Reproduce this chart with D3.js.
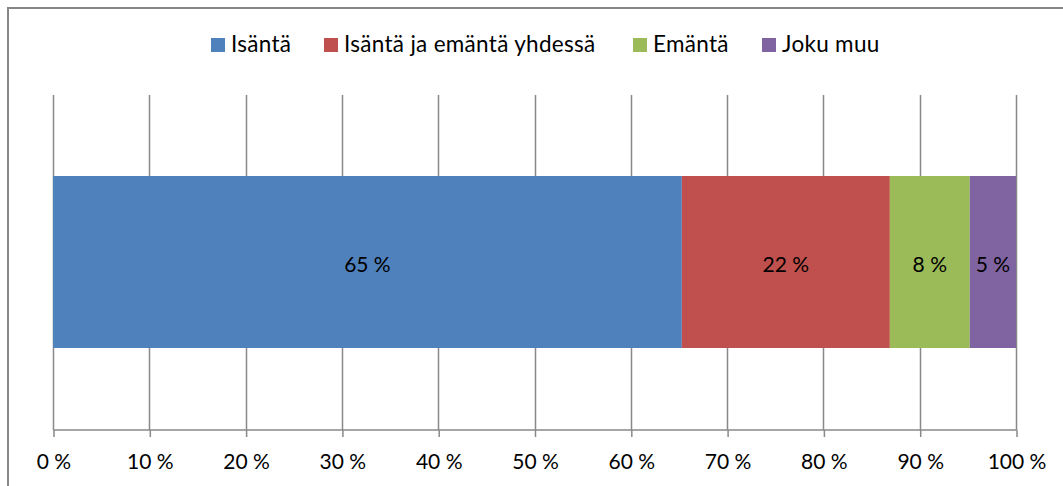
<!DOCTYPE html>
<html>
<head>
<meta charset="utf-8">
<script src="https://cdn.jsdelivr.net/npm/d3@7"></script>
<style>
  body { margin: 0; background: #fff; }
  svg { display: block; font-family: Lato, "Open Sans", sans-serif; }
</style>
</head>
<body>
<div id="container"></div>
<script>
// DATA
const categories = ['Isäntä', 'Isäntä ja emäntä yhdessä', 'Emäntä', 'Joku muu'];
const values = [65.3, 21.6, 8.3, 4.8];
const valueLabels = ['65 %', '22 %', '8 %', '5 %'];
const colors = ['#4f81bd', '#c0504d', '#9bbb59', '#8064a2'];
const ticks = [0, 10, 20, 30, 40, 50, 60, 70, 80, 90, 100];

const width = 1063;
const height = 486;
const margin = {top: 95, right: 47, bottom: 56, left: 53};

const x = d3.scaleLinear([0, 100], [margin.left, width - margin.right]);

const svg = d3.select('#container')
  .append('svg')
  .attr('width', width)
  .attr('height', height);

// chart border (top + left only visible)
svg.append('path')
  .attr('d', `M8,${height} V8 H${width}`)
  .attr('fill', 'none')
  .attr('stroke', '#878787')
  .attr('stroke-width', 2);

// gridlines
svg.append('g')
  .selectAll('line')
  .data(ticks)
  .join('line')
  .attr('x1', d => Math.round(x(d)) + 0.5)
  .attr('x2', d => Math.round(x(d)) + 0.5)
  .attr('y1', margin.top)
  .attr('y2', height - margin.bottom)
  .attr('stroke', '#898989')
  .attr('stroke-width', 1.5);

// stacked bar
const stacked = [];
let acc = 0;
values.forEach((v, i) => {
  stacked.push({cat: categories[i], x0: acc, x1: acc + v, label: valueLabels[i], color: colors[i]});
  acc += v;
});

svg.append('g')
  .selectAll('rect')
  .data(stacked)
  .join('rect')
  .attr('x', d => x(d.x0))
  .attr('width', d => x(d.x1) - x(d.x0))
  .attr('y', 176)
  .attr('height', 172)
  .attr('fill', d => d.color);

svg.append('g')
  .selectAll('text')
  .data(stacked)
  .join('text')
  .attr('x', d => (x(d.x0) + x(d.x1)) / 2)
  .attr('y', 271.5)
  .attr('text-anchor', 'middle')
  .attr('font-size', 21)
  .attr('fill', '#000')
  .text(d => d.label);

// x axis
const axis = d3.axisBottom(x)
  .tickValues(ticks)
  .tickSize(7)
  .tickPadding(32)
  .tickFormat(d => d + ' %');

svg.append('g')
  .attr('transform', `translate(0.5,${height - margin.bottom})`)
  .call(axis)
  .call(g => g.select('.domain').attr('stroke', '#898989').attr('stroke-width', 1.5)
    .attr('d', `M${x(0)},0H${x(100)}`))
  .call(g => g.selectAll('.tick line').attr('stroke', '#898989').attr('stroke-width', 1.5))
  .call(g => g.selectAll('.tick text')
    .attr('dy', 0)
    .attr('font-size', 21)
    .attr('font-family', 'Lato, "Open Sans", sans-serif')
    .attr('fill', '#000'));

// legend
const legendX = [211, 324, 633, 762];
const legend = svg.append('g')
  .selectAll('g')
  .data(categories)
  .join('g')
  .attr('transform', (d, i) => `translate(${legendX[i]},38)`);

legend.append('rect')
  .attr('width', 14)
  .attr('height', 14)
  .attr('fill', (d, i) => colors[i]);

legend.append('text')
  .attr('x', 20)
  .attr('y', 14)
  .attr('font-size', 22.5)
  .attr('letter-spacing', 0.3)
  .attr('fill', '#000')
  .text(d => d);
</script>
</body>
</html>
